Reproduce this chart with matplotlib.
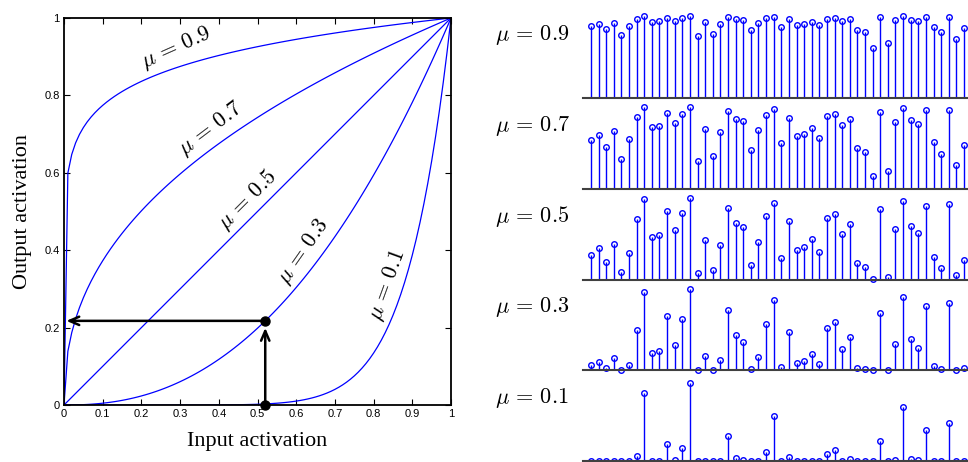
import numpy as np
import matplotlib.pyplot as plt

plt.rcParams['mathtext.fontset'] = 'cm'
plt.rcParams['font.family'] = 'Liberation Sans'

# gain settings shown on both panels
mu_values = [0.9, 0.7, 0.5, 0.3, 0.1]

# input activations of the 50 units (mu = 0.5 row is the identity)
input_levels = np.array([
    0.298, 0.380, 0.212, 0.437, 0.094, 0.318, 0.739, 0.980, 0.514, 0.539,
    0.837, 0.600, 0.816, 0.995, 0.078, 0.478, 0.114, 0.416, 0.878, 0.694,
    0.637, 0.176, 0.453, 0.780, 0.935, 0.257, 0.718, 0.355, 0.392, 0.498,
    0.331, 0.755, 0.800, 0.555, 0.678, 0.196, 0.151, 0.012, 0.857, 0.029,
    0.616, 0.955, 0.657, 0.571, 0.898, 0.269, 0.135, 0.918, 0.053, 0.233,
])

# example input traced through the mu = 0.3 curve
probe_input = 0.52
probe_mu = 0.3

# curve label placement (x, y, angle) per mu
label_pos = {0.9: (0.289, 0.922, 24), 0.7: (0.380, 0.713, 37),
             0.5: (0.475, 0.530, 45), 0.3: (0.620, 0.395, 55),
             0.1: (0.835, 0.310, 70)}


def gain(x, mu):
    return np.power(x, (1.0 - mu) / mu)


def mu_label(mu):
    return r'$\mu \,=\, %.1f$' % mu


W, H = 968, 462
fig = plt.figure(figsize=(W / 100, H / 100), dpi=100)

# ---- left: transfer functions ----
ax = fig.add_axes([64 / W, 1 - 405 / H, 387 / W, 387 / H])
x = np.linspace(0, 1, 101)
for mu in mu_values:
    ax.plot(x, gain(x, mu), color='#0000ff', lw=0.9)
    lx, ly, rot = label_pos[mu]
    ax.text(lx, ly, mu_label(mu), fontsize=16, rotation=rot,
            ha='center', va='center', rotation_mode='anchor')

probe_out = gain(probe_input, probe_mu)
ax.annotate('', xy=(probe_input, probe_out - 0.018), xytext=(probe_input, 0),
            arrowprops=dict(arrowstyle='->,head_length=0.7,head_width=0.3',
                            lw=1.8, color='black', shrinkA=0, shrinkB=0))
ax.annotate('', xy=(0.006, probe_out), xytext=(probe_input, probe_out),
            arrowprops=dict(arrowstyle='->,head_length=0.7,head_width=0.3',
                            lw=1.8, color='black', shrinkA=0, shrinkB=0))
ax.plot([probe_input, probe_input], [0, probe_out], 'o', color='black',
        ms=6.5, clip_on=False, zorder=5)

ax.set_xlim(0, 1)
ax.set_ylim(0, 1)
ax.set_xticks(np.arange(0, 1.01, 0.1))
ax.set_xticklabels(['0'] + ['%.1f' % v for v in np.arange(0.1, 0.95, 0.1)] + ['1'])
ax.set_yticks(np.arange(0, 1.01, 0.2))
ax.set_yticklabels(['0', '0.2', '0.4', '0.6', '0.8', '1'])
ax.tick_params(direction='in', top=True, right=True, length=4, width=0.8,
               labelsize=8, pad=3)
for s in ax.spines.values():
    s.set_linewidth(1.3)
ax.set_xlabel('Input activation', family='Liberation Serif', fontsize=16, labelpad=9)
ax.set_ylabel('Output activation', family='Liberation Serif', fontsize=16, labelpad=9)

# ---- right: unit activations for each mu ----
idx = np.arange(1, len(input_levels) + 1)
row_base = [98 + i * 90.75 for i in range(len(mu_values))]
for mu, base in zip(mu_values, row_base):
    rax = fig.add_axes([583 / W, 1 - base / H, (W - 583) / W, 82 / H])
    vals = gain(input_levels, mu)
    markers, stems, baseline = rax.stem(idx, vals, basefmt=' ')
    plt.setp(stems, color='#0000ff', lw=1.0)
    plt.setp(markers, color='#0000ff', marker='o', ms=4,
             mfc='none', mew=1.0, clip_on=False)
    rax.set_xlim(-0.05, 50.53)
    rax.set_ylim(0, 1)
    for side in ['top', 'left', 'right']:
        rax.spines[side].set_visible(False)
    rax.spines['bottom'].set_color('#404040')
    rax.spines['bottom'].set_linewidth(1.5)
    rax.set_xticks([])
    rax.set_yticks([])
    rax.patch.set_visible(False)
    fig.text(495 / W, 1 - (base - 63) / H, mu_label(mu), fontsize=16,
             ha='left', va='center')

fig.savefig('out.png', dpi=100)
